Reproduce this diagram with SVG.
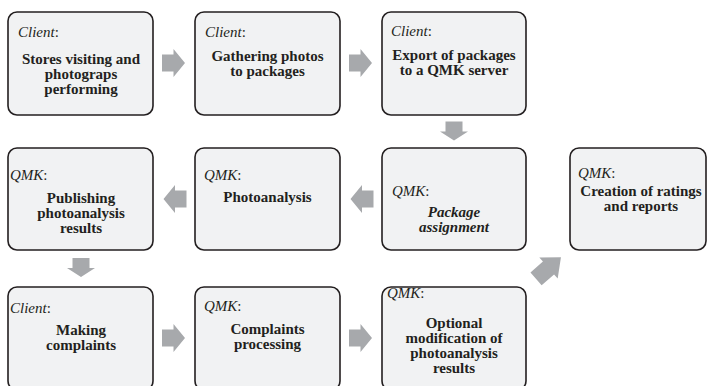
<svg xmlns="http://www.w3.org/2000/svg" xmlns:xlink="http://www.w3.org/1999/xlink" width="707" height="386" viewBox="0 0 707 386" font-family="'Liberation Serif', 'DejaVu Serif', serif">
<style>
.box{fill:#f1f2f3;stroke:#231f20;stroke-width:1.6}
.arr{fill:#a7a9ac}
text{font-family:'Liberation Serif','DejaVu Serif',serif;font-size:15px;fill:#231f20}
.lbl{font-style:italic}
.lbl tspan{font-style:normal}
.t{font-weight:bold;text-anchor:middle}
.ti{font-weight:bold;font-style:italic;text-anchor:middle}
</style>
<defs>
<path id="ar" d="M-11.5,-8.5 H0 V-14 L11.5,0 L0,14 V8.5 H-11.5 Z"/>
<path id="ad" d="M-8.5,-9.5 H8.5 V0.5 H14 L0,9.5 L-14,0.5 H-8.5 Z"/>
<path id="ag" d="M-16.5,-8.5 H0 V-14 L16.5,0 L0,14 V8.5 H-16.5 Z"/>
</defs>
<rect width="707" height="386" fill="#ffffff"/>
<g id="connectors" class="arr">
<use xlink:href="#ar" transform="translate(173.5,63)"/>
<use xlink:href="#ar" transform="translate(360.5,63)"/>
<use xlink:href="#ad" transform="translate(454,131)"/>
<use xlink:href="#ar" transform="translate(362,199) rotate(180)"/>
<use xlink:href="#ar" transform="translate(175,199) rotate(180)"/>
<use xlink:href="#ad" transform="translate(81,267.5)"/>
<use xlink:href="#ar" transform="translate(173.5,338)"/>
<use xlink:href="#ar" transform="translate(360.5,338)"/>
<use xlink:href="#ag" transform="translate(548.5,268) rotate(-41)"/>
</g>
<g id="n1"><rect class="box" x="8" y="12" width="145" height="103" rx="9"/>
<text class="lbl" x="18" y="37">Client<tspan>:</tspan></text>
<text class="t" x="81" y="64">Stores visiting and</text>
<text class="t" x="81" y="79">photograps</text>
<text class="t" x="81" y="94">performing</text></g>
<g id="n2"><rect class="box" x="195" y="12" width="145" height="103" rx="9"/>
<text class="lbl" x="205" y="37">Client<tspan>:</tspan></text>
<text class="t" x="267.5" y="61">Gathering photos</text>
<text class="t" x="267.5" y="76">to packages</text></g>
<g id="n3"><rect class="box" x="382" y="12" width="144" height="103" rx="9"/>
<text class="lbl" x="391" y="36">Client<tspan>:</tspan></text>
<text class="t" x="454" y="60">Export of packages</text>
<text class="t" x="454" y="75">to a QMK server</text></g>
<g id="n4"><rect class="box" x="8" y="148" width="145" height="102" rx="9"/>
<text class="lbl" x="10" y="180">QMK<tspan>:</tspan></text>
<text class="t" x="81" y="203">Publishing</text>
<text class="t" x="81" y="218">photoanalysis</text>
<text class="t" x="81" y="233">results</text></g>
<g id="n5"><rect class="box" x="195" y="148" width="145" height="102" rx="9"/>
<text class="lbl" x="204" y="180">QMK<tspan>:</tspan></text>
<text class="t" x="267.5" y="202">Photoanalysis</text></g>
<g id="n6"><rect class="box" x="382" y="148" width="144" height="102" rx="9"/>
<text class="lbl" x="392" y="196">QMK<tspan>:</tspan></text>
<text class="ti" x="454" y="217">Package</text>
<text class="ti" x="454" y="232">assignment</text></g>
<g id="n7"><rect class="box" x="570" y="148" width="136" height="102" rx="9"/>
<text class="lbl" x="578" y="178">QMK<tspan>:</tspan></text>
<text class="t" x="641" y="196">Creation of ratings</text>
<text class="t" x="641" y="211">and reports</text></g>
<g id="n8"><rect class="box" x="8" y="287" width="145" height="103" rx="9"/>
<text class="lbl" x="10" y="313">Client<tspan>:</tspan></text>
<text class="t" x="81" y="335">Making</text>
<text class="t" x="81" y="350">complaints</text></g>
<g id="n9"><rect class="box" x="195" y="287" width="145" height="103" rx="9"/>
<text class="lbl" x="204" y="311">QMK<tspan>:</tspan></text>
<text class="t" x="267.5" y="334">Complaints</text>
<text class="t" x="267.5" y="349">processing</text></g>
<g id="n10"><rect class="box" x="382" y="287" width="144" height="103" rx="9"/>
<text class="lbl" x="387" y="298">QMK<tspan>:</tspan></text>
<text class="t" x="454" y="328">Optional</text>
<text class="t" x="454" y="343">modification of</text>
<text class="t" x="454" y="358">photoanalysis</text>
<text class="t" x="454" y="373">results</text></g>
</svg>
